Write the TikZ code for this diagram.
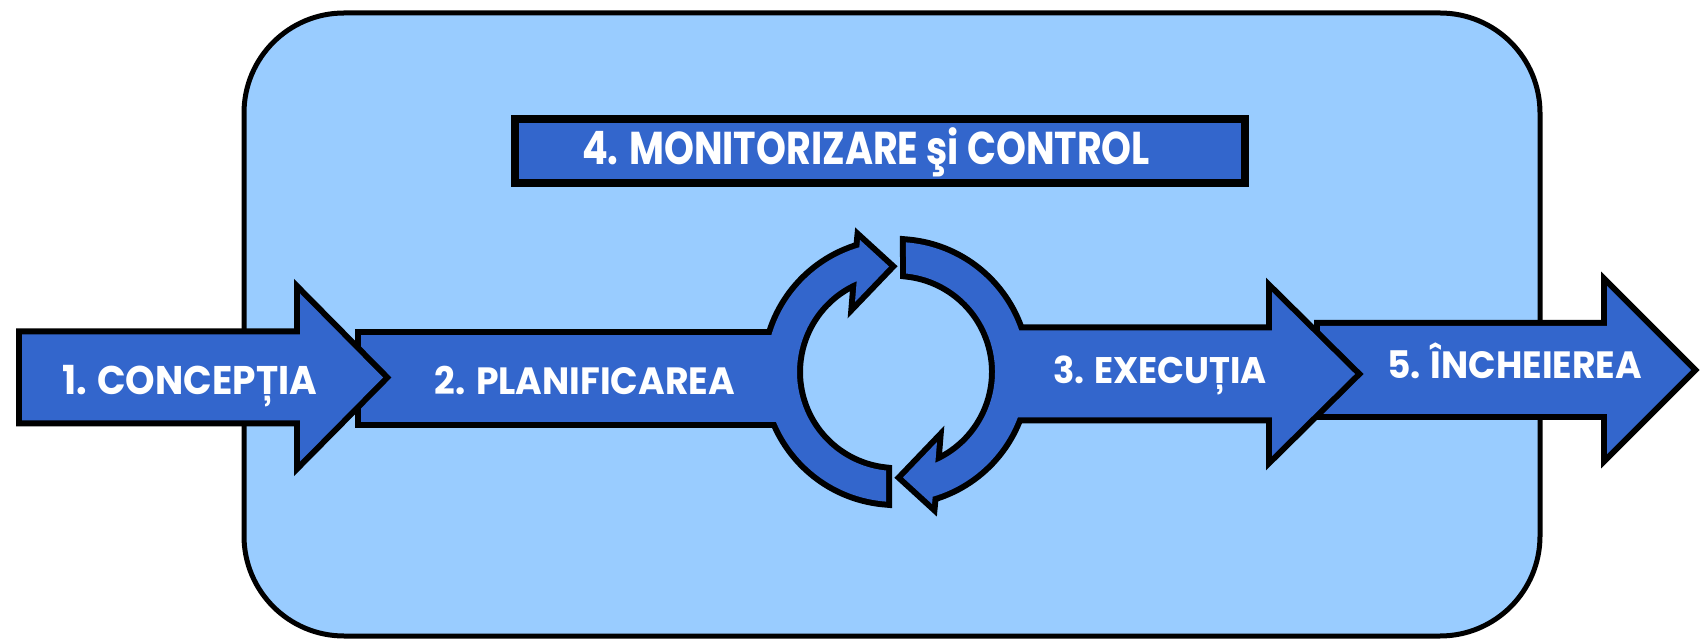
\documentclass[tikz,border=0pt]{standalone}
\usepackage{fontspec}
\usepackage{graphicx}
\newfontfamily\lab{Poppins}[UprightFont=* Bold]
\definecolor{bgblue}{HTML}{99CCFF}
\definecolor{arblue}{HTML}{3366CC}
\tikzset{
  outl/.style={draw=black, fill=black, line width=12pt, line join=miter, miter limit=10},
  inn/.style={fill=arblue},
  lbl/.style={text=white, inner sep=0pt, anchor=base},
}
% straight arrow: x0, head base x, tip x, centre y, body half height, head half height
\newcommand\arrowpath[6]{(#1,#4-#5) -- (#2,#4-#5) -- (#2,#4-#6) -- (#3,#4) -- (#2,#4+#6) -- (#2,#4+#5) -- (#1,#4+#5) -- cycle}
% left circular arrow (centre 896,268)
\newcommand\ringL{({896+130*cos(265.6)},{268+130*sin(265.6)}) arc[start angle=265.6, end angle=106.4, radius=130] -- (860,400) -- (889,373.5) -- (855,338) -- ({896+99*cos(113.4)},{268+99*sin(113.4)}) arc[start angle=113.4, end angle=264.2, radius=99] -- cycle}
% right circular arrow (left one turned by 180 degrees)
\newcommand\ringR{({896+130*cos(85.6)},{268+130*sin(85.6)}) arc[start angle=85.6, end angle=-73.6, radius=130] -- (932,136) -- (903,162.5) -- (937,198) -- ({896+99*cos(-66.6)},{268+99*sin(-66.6)}) arc[start angle=-66.6, end angle=84.2, radius=99] -- cycle}
\newcommand\fitt[3]{\resizebox{#1}{\height}{\fontsize{#2}{#2}\selectfont\lab #3}}
\begin{document}
\begin{tikzpicture}[x=1pt,y=1pt]
\useasboundingbox (0,0) rectangle (1704,640);
\fill[white] (0,0) rectangle (1704,640);
% frame
\draw[line width=5pt, fill=bgblue, rounded corners=100pt] (244,4) rectangle (1540,627);
% title box
\draw[line width=8pt, fill=arblue] (514.5,456.5) rectangle (1245,520.5);
% arrow 5
\path[outl] \arrowpath{1320}{1607}{1691}{270}{44}{84};
\path[inn] \arrowpath{1320}{1607}{1691}{270}{44}{84};
% group: arrow 2 body + left ring arrow
\path[outl] (361,218) rectangle (790,305);
\path[outl] \ringL;
\path[inn] (361,218) rectangle (790,305);
\path[inn] \ringL;
% group: right ring arrow + arrow 3
\path[outl] \ringR;
\path[outl] \arrowpath{1000}{1272}{1355}{266}{43.5}{82};
\path[inn] \ringR;
\path[inn] \arrowpath{1000}{1272}{1355}{266}{43.5}{82};
% arrow 1
\path[outl] \arrowpath{22}{300}{383}{262.5}{43}{84};
\path[inn] \arrowpath{22}{300}{383}{262.5}{43}{84};
% labels
\node[lbl] (t1) at (189.5,245) {\fitt{255pt}{40}{1. CONCEPȚIA}};
\node[lbl] (t2) at (585,245) {\fitt{300pt}{38}{2. PLANIFICAREA}};
\node[lbl] (t3) at (1160,256.7) {\fitt{214pt}{37}{3. EXECUȚIA}};
\node[lbl] (t5) at (1514.5,261.7) {\fitt{255pt}{38}{5. ÎNCHEIEREA}};
\node[lbl] (t4) at (866,475) {\fitt{568pt}{46}{4. MONITORIZARE şi CONTROL}};
\end{tikzpicture}
\end{document}
